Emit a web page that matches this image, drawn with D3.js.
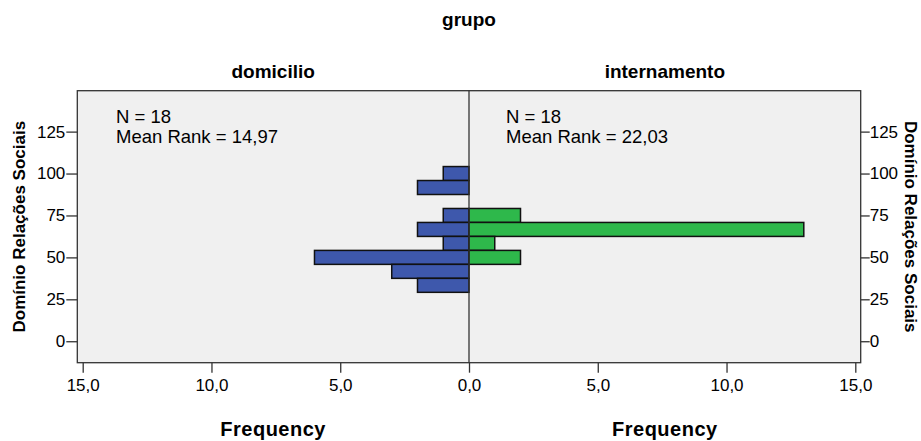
<!DOCTYPE html>
<html>
<head>
<meta charset="utf-8">
<script src="https://cdn.jsdelivr.net/npm/d3@7"></script>
<style>
  body { margin: 0; background: #fff; }
  svg text { font-family: "Liberation Sans", Arial, sans-serif; fill: #000; }
</style>
</head>
<body>
<svg id="chart" width="921" height="441"></svg>
<script>
// bin centres of the score (width 25/3)
var binCenters = [100, 91.67, 83.33, 75, 66.67, 58.33, 50, 41.67, 33.33];
var domicilioCounts = [1, 2, 0, 1, 2, 1, 6, 3, 2];
var internamentoCounts = [0, 0, 0, 2, 13, 1, 2, 0, 0];
var groups = ['domicilio', 'internamento'];
var groupStats = [['N = 18', 'Mean Rank = 14,97'], ['N = 18', 'Mean Rank = 22,03']];
var yTicks = [0, 25, 50, 75, 100, 125];
var xTicks = [0, 5, 10, 15];

var binWidth = 25 / 3;
var svg = d3.select('#chart');

// plot box (window.top is read-only, so no "top" here)
var plotTop = 90.7, plotBottom = 362.7, plotLeft = 77.3, plotRight = 860.7, mid = 469;

var y = d3.scaleLinear().domain([-12.8, 149.4]).range([plotBottom, plotTop]);
var xLeft = d3.scaleLinear().domain([0, 15]).range([mid, 82.7]);
var xRight = d3.scaleLinear().domain([0, 15]).range([mid, 855.3]);

svg.append('rect')
  .attr('x', plotLeft).attr('y', plotTop)
  .attr('width', plotRight - plotLeft).attr('height', plotBottom - plotTop)
  .attr('fill', '#f0f0f0');

var fmt = function(d) { return d3.format('.1f')(d).replace('.', ','); };

var drawBars = function(counts, xs, color) {
  svg.append('g').selectAll('rect')
    .data(binCenters.map(function(c, i) { return {c: c, n: counts[i]}; })
      .filter(function(d) { return d.n > 0; }))
    .enter().append('rect')
    .attr('x', function(d) { return Math.min(xs(0), xs(d.n)); })
    .attr('width', function(d) { return Math.abs(xs(d.n) - xs(0)); })
    .attr('y', function(d) { return y(d.c + binWidth / 2); })
    .attr('height', function(d) { return y(d.c - binWidth / 2) - y(d.c + binWidth / 2); })
    .attr('fill', color)
    .attr('stroke', '#111')
    .attr('stroke-width', 1.5);
};

drawBars(domicilioCounts, xLeft, '#3e58ac');
drawBars(internamentoCounts, xRight, '#2eb84b');

// frame
svg.append('rect')
  .attr('x', plotLeft).attr('y', plotTop)
  .attr('width', plotRight - plotLeft).attr('height', plotBottom - plotTop)
  .attr('fill', 'none').attr('stroke', '#333').attr('stroke-width', 1.3);
svg.append('line')
  .attr('x1', mid).attr('x2', mid).attr('y1', plotTop).attr('y2', plotBottom)
  .attr('stroke', '#333').attr('stroke-width', 1.3);

// x axes
var xAxisL = d3.axisBottom(xLeft).tickValues(xTicks).tickFormat(fmt).tickSize(10).tickPadding(6);
var xAxisR = d3.axisBottom(xRight).tickValues(xTicks.slice(1)).tickFormat(fmt).tickSize(10).tickPadding(6);
[xAxisL, xAxisR].forEach(function(ax) {
  var g = svg.append('g').attr('transform', 'translate(0,' + plotBottom + ')').call(ax);
  g.select('.domain').remove();
  g.selectAll('line').attr('stroke', '#333').attr('stroke-width', 1.3);
  g.selectAll('text').attr('font-size', 17).attr('fill', '#000');
});

// y axes
var yAxisL = d3.axisLeft(y).tickValues(yTicks).tickSize(11).tickPadding(1);
var yAxisR = d3.axisRight(y).tickValues(yTicks).tickSize(9).tickPadding(0);
var gl = svg.append('g').attr('transform', 'translate(' + plotLeft + ',0)').call(yAxisL);
var gr = svg.append('g').attr('transform', 'translate(' + plotRight + ',0)').call(yAxisR);
[gl, gr].forEach(function(g) {
  g.select('.domain').remove();
  g.selectAll('line').attr('stroke', '#333').attr('stroke-width', 1.3);
  g.selectAll('text').attr('font-size', 17).attr('fill', '#000');
});

// titles
svg.append('text').attr('x', mid).attr('y', 26).attr('text-anchor', 'middle')
  .attr('font-size', 19).attr('font-weight', 'bold').text('grupo');

var panelCenters = [(plotLeft + mid) / 2, (mid + plotRight) / 2];
groups.forEach(function(g, i) {
  svg.append('text').attr('x', panelCenters[i]).attr('y', 78).attr('text-anchor', 'middle')
    .attr('font-size', 19).attr('font-weight', 'bold').text(g);
  svg.append('text').attr('x', panelCenters[i]).attr('y', 436).attr('text-anchor', 'middle')
    .attr('font-size', 20).attr('font-weight', 'bold').attr('letter-spacing', 0.5).text('Frequency');
  var tx = i === 0 ? 116 : 506;
  svg.append('text').attr('x', tx).attr('y', 123).attr('font-size', 18.5).text(groupStats[i][0]);
  svg.append('text').attr('x', tx).attr('y', 143).attr('font-size', 18.5).text(groupStats[i][1]);
});

var yMid = (plotTop + plotBottom) / 2;
svg.append('text').attr('transform', 'translate(25,' + yMid + ') rotate(-90)')
  .attr('text-anchor', 'middle').attr('font-size', 17).attr('font-weight', 'bold')
  .text('Domínio Relações Sociais');
svg.append('text').attr('transform', 'translate(905,' + yMid + ') rotate(90)')
  .attr('text-anchor', 'middle').attr('font-size', 17).attr('font-weight', 'bold')
  .text('Domínio Relações Sociais');
</script>
</body>
</html>
